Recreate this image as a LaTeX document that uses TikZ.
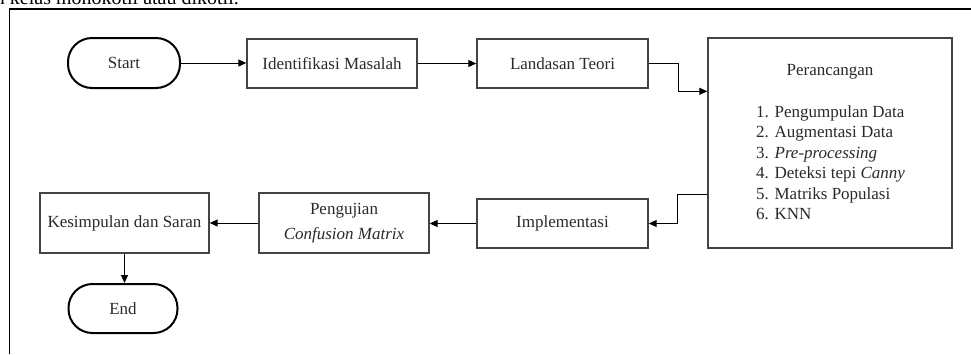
\documentclass[tikz,border=0pt]{standalone}
\usepackage{fontspec}
\setmainfont{Liberation Serif}
\usetikzlibrary{arrows.meta,calc}
\definecolor{boxc}{HTML}{444444}
\definecolor{txt}{HTML}{2A2A2A}
\begin{document}
\begin{tikzpicture}[x=1pt,y=-1pt,
  lbl/.style={font=\fontsize{17}{20}\selectfont,text=txt,inner sep=0pt},
  box/.style={draw=boxc,line width=1.4pt,fill=white,inner sep=0pt,
    font=\fontsize{17}{20}\selectfont,text=txt},
  term/.style={draw=black,line width=2pt,rounded corners=24pt,inner sep=0pt,
    font=\fontsize{17}{20}\selectfont,text=txt},
  arr/.style={draw=black,line width=1pt,-{Triangle[length=8pt,width=7pt]}}]
\useasboundingbox (0,0) rectangle (971,354);
\begin{scope}
\clip (0,0) rectangle (971,354);
\node[anchor=base east,font=\fontsize{20}{24}\selectfont,inner sep=0pt] (toptext) at (239,4.5) {n kelas monokotil atau dikotil.};
\end{scope}
% frame
\draw[line width=1.3pt] (9.5,354) -- (9.5,9) -- (971,9);
% nodes
\node[term,minimum width=112,minimum height=50] (start) at (124,63) {Start};
\node[box,minimum width=170,minimum height=49] (im) at (332,63.5) {Identifikasi Masalah};
\node[box,minimum width=171,minimum height=49] (lt) at (562.5,63.5) {Landasan Teori};
\node[box,minimum width=244,minimum height=210] (p) at (830,143) {};
\node[lbl,anchor=base] (ptitle) at (830,75.5) {Perancangan};
\node[lbl,anchor=base west] (l1) at (756,117) {1. Pengumpulan Data};
\node[lbl,anchor=base west] (l2) at (756,137.5) {2. Augmentasi Data};
\node[lbl,anchor=base west] (l3) at (756,158) {3. \textit{Pre-processing}};
\node[lbl,anchor=base west] (l4) at (756,178.5) {4. Deteksi tepi \textit{Canny}};
\node[lbl,anchor=base west] (l5) at (756,199) {5. Matriks Populasi};
\node[lbl,anchor=base west] (l6) at (756,219) {6. KNN};
\node[box,minimum width=171,minimum height=49] (impl) at (562.5,223.5) {Implementasi};
\node[box,minimum width=170,minimum height=60,align=center,
  font=\fontsize{17}{25}\selectfont] (peng) at (344,223) {Pengujian\\\textit{Confusion Matrix}};
\node[box,minimum width=169,minimum height=60] (kes) at (124.5,223) {Kesimpulan dan Saran};
\node[term,minimum width=109,minimum height=49] (end) at (123,308.5) {End};
% connectors
\draw[arr] (start.east) -- (start.east -| im.west);
\draw[arr] (im.east) -- (im.east -| lt.west);
\draw[arr] (lt.east) -- ++(30,0) |- ($(p.north west)+(0,54)$);
\draw[arr] ($(p.north west)+(0,157)$) -- ++(-30,0) |- (impl.east);
\draw[arr] (impl.west) -- (impl.west -| peng.east);
\draw[arr] (peng.west) -- (peng.west -| kes.east);
\draw[arr] (kes.south) -- (kes.south |- end.north);
\end{tikzpicture}
\end{document}
